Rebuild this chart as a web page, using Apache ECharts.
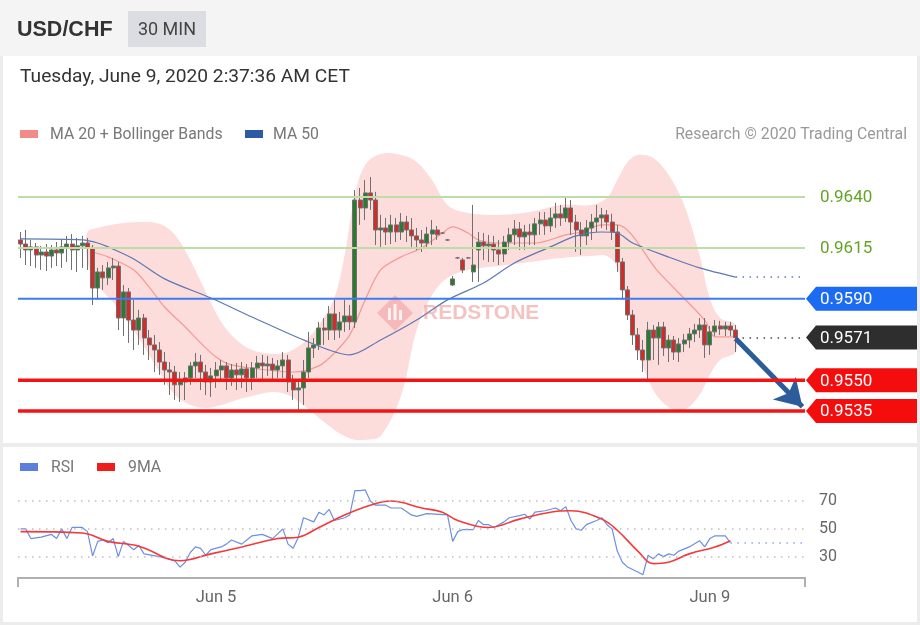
<!DOCTYPE html>
<html>
<head>
<meta charset="utf-8">
<script src="https://cdn.jsdelivr.net/npm/echarts@6/dist/echarts.min.js"></script>
<style>
html,body{margin:0;padding:0;background:#ececec;}
#wrap{position:relative;width:920px;height:625px;overflow:hidden;}
.bg{position:absolute;}
#c{position:absolute;left:0;top:0;width:920px;height:625px;}
</style>
</head>
<body>
<div id="wrap">
  <div class="bg" style="left:0;top:0;width:920px;height:56px;background:#f4f4f4"></div>
  <div class="bg" style="left:3px;top:56px;width:914px;height:387px;background:#fff"></div>
  <div class="bg" style="left:3px;top:447px;width:914px;height:175px;background:#fff"></div>
  <div id="c"></div>
</div>
<script>
// ---------- DATA ----------
const opens = [
 .96189,.96169,.96140,.96155,.96115,.96130,.96110,.96140,.96125,.96155,
 .96169,.96140,.96160,.96174,.96150,.95953,.96032,.96003,.96052,.96061,
 .95806,.95934,.95796,.95747,.95806,.95708,.95674,.95649,.95590,.95551,
 .95541,.95478,.95492,.95512,.95571,.95590,.95541,.95492,.95522,.95551,
 .95571,.95512,.95551,.95527,.95556,.95512,.95561,.95585,.95571,.95580,
 .95551,.95571,.95600,.95492,.95453,.95463,.95541,.95659,.95674,.95757,
 .95747,.95826,.95747,.95787,.95816,.95787,.96385,.96346,.96420,.96385,
 .96238,.96248,.96228,.96263,.96228,.96277,.96238,.96209,.96189,.96174,
 .96218,.96238,.96223,.96189,.95968,.96101,.96091,.96101,.96032,.96140,
 .96179,.96160,.96169,.96140,.96120,.96179,.96214,.96243,.96204,.96228,
 .96214,.96268,.96287,.96258,.96297,.96317,.96297,.96346,.96277,.96238,
 .96209,.96248,.96277,.96297,.96312,.96277,.96228,.96081,.95944,.95821,
 .95723,.95649,.95600,.95747,.95708,.95762,.95659,.95698,.95639,.95679,
 .95698,.95728,.95747,.95772,.95674,.95738,.95767,.95752,.95767,.95747
];
const closes = [
 .96169,.96140,.96155,.96115,.96130,.96110,.96140,.96125,.96155,.96169,
 .96140,.96160,.96174,.96150,.95953,.96032,.96003,.96052,.96061,.95806,
 .95934,.95796,.95747,.95806,.95708,.95674,.95649,.95590,.95551,.95541,
 .95478,.95492,.95512,.95571,.95590,.95541,.95492,.95522,.95551,.95571,
 .95512,.95551,.95527,.95556,.95512,.95561,.95585,.95571,.95580,.95551,
 .95571,.95600,.95492,.95453,.95463,.95541,.95659,.95674,.95757,.95747,
 .95826,.95747,.95787,.95816,.95787,.96385,.96346,.96420,.96385,.96238,
 .96248,.96228,.96263,.96228,.96277,.96238,.96209,.96189,.96174,.96218,
 .96238,.96214,.96223,.96189,.95998,.96101,.96042,.96101,.96066,.96179,
 .96160,.96169,.96140,.96120,.96179,.96214,.96243,.96204,.96228,.96214,
 .96268,.96287,.96258,.96297,.96317,.96297,.96346,.96277,.96238,.96209,
 .96248,.96277,.96297,.96312,.96277,.96228,.96081,.95944,.95821,.95723,
 .95649,.95600,.95747,.95708,.95762,.95659,.95698,.95639,.95679,.95698,
 .95728,.95747,.95772,.95674,.95738,.95767,.95752,.95767,.95747,.95710
];
const lows = [
 .96101,.96066,.96061,.96052,.96042,.96037,.96052,.96061,.96052,.96081,
 .96042,.96032,.96052,.96042,.95870,.95895,.95944,.95968,.95993,.95747,
 .95718,.95684,.95649,.95674,.95625,.95600,.95541,.95527,.95478,.95428,
 .95404,.95394,.95404,.95478,.95512,.95453,.95428,.95419,.95463,.95492,
 .95453,.95473,.95453,.95463,.95443,.95453,.95512,.95502,.95522,.95502,
 .95512,.95512,.95443,.95404,.95355,.95379,.95512,.95610,.95649,.95674,
 .95698,.95698,.95708,.95738,.95747,.95757,.96263,.96287,.96336,.96164,
 .96155,.96164,.96169,.96179,.96189,.96179,.96155,.96140,.96130,.96150,
 .96164,.96189,.96218,.96184,.95963,.96096,.96027,.96096,.95983,.95983,
 .96091,.96081,.96081,.96066,.96081,.96140,.96164,.96140,.96140,.96164,
 .96164,.96214,.96214,.96228,.96248,.96258,.96277,.96214,.96130,.96115,
 .96164,.96189,.96228,.96248,.96238,.96189,.96032,.95895,.95796,.95674,
 .95600,.95541,.95492,.95600,.95576,.95620,.95590,.95600,.95590,.95639,
 .95659,.95688,.95708,.95610,.95625,.95718,.95723,.95718,.95718,.95639
];
const highs = [
 .96228,.96238,.96189,.96174,.96160,.96169,.96164,.96179,.96189,.96209,
 .96218,.96199,.96209,.96199,.96164,.96052,.96066,.96081,.96101,.96081,
 .95968,.95953,.95895,.95846,.95826,.95747,.95723,.95688,.95639,.95590,
 .95571,.95541,.95541,.95590,.95634,.95625,.95576,.95561,.95590,.95600,
 .95590,.95580,.95585,.95590,.95580,.95590,.95620,.95625,.95620,.95610,
 .95600,.95639,.95625,.95527,.95502,.95600,.95738,.95708,.95787,.95806,
 .95865,.95895,.95836,.95895,.95870,.96434,.96444,.96483,.96498,.96425,
 .96312,.96297,.96312,.96297,.96321,.96307,.96297,.96248,.96238,.96253,
 .96287,.96258,.96228,.96194,.96012,.96106,.96101,.96106,.96361,.96228,
 .96223,.96214,.96209,.96189,.96209,.96248,.96287,.96277,.96263,.96268,
 .96297,.96326,.96326,.96346,.96371,.96361,.96400,.96385,.96312,.96277,
 .96287,.96317,.96361,.96346,.96336,.96317,.96263,.96101,.95963,.95846,
 .95757,.95698,.95787,.95772,.95787,.95787,.95723,.95718,.95708,.95728,
 .95757,.95777,.95806,.95806,.95767,.95796,.95792,.95787,.95787,.95772
];
// [candle index, value]
const ma50 = [[0,.96194],[12,.96189],[15,.96174],[17,.96155],[22,.96096],[28,.95998],[37,.95904],[45,.95811],[56,.95688],[64,.95625],[70,.95698],[77,.95796],[83,.95895],[90,.95978],[96,.96076],[103,.96155],[108,.96209],[113,.96228],[116,.96223],[119,.96174],[126,.96105],[132,.96052],[139,.96007]];
const ma20 = [[14,.96130],[17,.96106],[22,.96042],[25,.95958],[28,.95860],[32,.95762],[35,.95684],[38,.95615],[41,.95576],[48,.95551],[53,.95541],[58,.95571],[61,.95634],[64,.95723],[67,.95895],[70,.96042],[74,.96106],[78,.96150],[82,.96223],[84,.96253],[87,.96223],[89,.96189],[93,.96174],[100,.96174],[106,.96214],[109,.96228],[113,.96263],[116,.96263],[124,.96032],[133,.95796],[135,.95713],[139,.95713]];
const bandIdx = [13,15,19,23,27,30,33,36,39,42,45,49,52,55,58,61,63,65,67,70,74,77,80,83,87,93,99,105,111,114,116,118,120,123,126,129,132,134,136,139];
const bandUpper = [.96228,.96248,.96268,.96277,.96268,.96214,.96091,.95934,.95787,.95698,.95649,.95630,.95639,.95684,.95772,.95904,.96115,.96410,.96557,.96611,.96606,.96572,.96483,.96361,.96321,.96312,.96326,.96361,.96361,.96395,.96483,.96572,.96606,.96591,.96508,.96361,.96115,.95904,.95806,.95772];
const bandLower = [.96081,.95968,.95855,.95708,.95541,.95428,.95379,.95364,.95379,.95404,.95423,.95443,.95428,.95379,.95316,.95257,.95227,.95208,.95208,.95227,.95428,.95747,.95919,.96003,.96042,.96061,.96081,.96101,.96110,.96110,.96052,.95870,.95649,.95453,.95369,.95355,.95428,.95527,.95600,.95639];
const rsi = [[0,50],[1,50],[2,43],[4,44],[6,46],[7,43],[8,50],[9,43],[10,51],[12,51],[13,48],[14,30.5],[15,41],[16,42],[17,40],[18,43],[19,30],[20,41],[21,38],[22,35],[23,38],[24,32],[27,30],[28,29],[30,27],[31,22.5],[32,26],[33,33],[34,37],[35,36],[36,31],[37,35],[39,37],[40,39],[41,42],[43,39],[45,45],[47,46],[49,43],[51,50],[52,39],[53,36],[54,44],[55,58],[57,55],[58,62],[59,60],[60,64],[61,56],[63,58],[64,60],[65,77.5],[66,77.5],[67,78],[68,70],[69,67],[71,67],[72,65],[74,65],[76,60],[77,59],[79,61],[83,60],[84,41],[85,48],[86,49.5],[88,49.5],[89,56],[90,53],[91,53],[92,51],[94,55],[95,58],[97,59.5],[98,60.5],[99,57],[100,62],[102,63],[104,65],[105,63],[106,66],[107,56],[108,50],[109,49],[110,53],[112,56],[113,58],[114,53],[115,50],[116,34],[117,26],[118,22.5],[120,19],[121,17],[122,31],[123,28.5],[124,32],[125,30],[126,32],[127,31],[128,34],[130,37],[132,41.5],[133,37],[134,43],[135,45],[137,45],[138,40]];
const rsiMA9 = [[0,48],[12,47],[17,41],[23,37.5],[31,27],[37,32],[43,37],[50,43],[54,44],[58,51],[63,60],[68,67],[72,70],[78,65],[82,62],[85,56],[91,51],[97,57],[103,62],[107,63],[113,57],[116,49],[120,34],[123,25],[126,26],[130,32],[135,37],[138,41.5]];
const rsiLast = 40;
const rsiTicks = [70, 50, 30];
const resistances = [0.9640, 0.9615];
const pivot = 0.9590;
const lastPrice = 0.9571;
const supports = [0.9550, 0.9535];
const arrowFrom = [139, 0.95705];
const arrowTo = [152, 0.95370];
const tickLabels = {38: 'Jun 5', 84: 'Jun 6', 134: 'Jun 9'};
const SLOTS = 153;

// ---------- CHART ----------
const FONT = 'Roboto, "Liberation Sans", sans-serif';
const categories = [];
for (let i = 0; i < SLOTS; i++) categories.push(String(i));
const candles = opens.map((o, k) => [o, closes[k], lows[k], highs[k]]);
const lastIdx = opens.length - 1;
const ma50Last = ma50[ma50.length - 1][1];
const G = {left: 18, right: 115};

const chart = echarts.init(document.getElementById('c'), null, {renderer: 'canvas'});
const dotted = [1.5, 5.5];
const solid = (color, width) => ({color: color, width: width, type: 'solid'});

const option = {
  animation: false,
  backgroundColor: 'transparent',
  grid: [
    {left: G.left, right: G.right, top: 150.1, height: 291.4},
    {left: G.left, right: G.right, top: 480.2, height: 97.3}
  ],
  xAxis: [
    {type: 'category', gridIndex: 0, data: categories, boundaryGap: true,
     axisLine: {show: false}, axisTick: {show: false}, axisLabel: {show: false}, splitLine: {show: false}},
    {type: 'category', gridIndex: 1, data: categories, boundaryGap: true,
     axisLine: {show: true, lineStyle: {color: '#b0b0b0', width: 2}},
     axisTick: {show: false}, splitLine: {show: false},
     axisLabel: {show: true, interval: 0, margin: 12, color: '#666', fontSize: 16.5, fontFamily: FONT,
       formatter: v => tickLabels[v] || ''}}
  ],
  yAxis: [
    {type: 'value', gridIndex: 0, min: 0.9520, max: 0.9663, show: false, splitLine: {show: false}},
    {type: 'value', gridIndex: 1, min: 15, max: 85, show: false, splitLine: {show: false}}
  ],
  series: [
    {type: 'custom', name: 'Bollinger', xAxisIndex: 0, yAxisIndex: 0, z: 1, silent: true,
     data: bandIdx.map((x, k) => [x, bandUpper[k], bandLower[k]]),
     encode: {x: 0, y: [1, 2]},
     renderItem: (params, api) => {
       if (params.dataIndex !== 0) return null;
       const pts = [];
       for (let k = 0; k < bandIdx.length; k++) pts.push(api.coord([bandIdx[k], bandUpper[k]]));
       for (let k = bandIdx.length - 1; k >= 0; k--) pts.push(api.coord([bandIdx[k], bandLower[k]]));
       return {type: 'polygon', shape: {points: pts, smooth: 0.35}, style: {fill: '#fddcdc'}};
     }},
    {type: 'line', name: 'MA 20', xAxisIndex: 0, yAxisIndex: 0, z: 2, data: ma20, smooth: 0.3,
     symbol: 'none', lineStyle: {color: '#f39a94', width: 1.2}},
    {type: 'candlestick', name: 'USD/CHF', xAxisIndex: 0, yAxisIndex: 0, z: 3, data: candles, barWidth: 4.5,
     itemStyle: {color: '#2c7a30', color0: '#d22b28', borderColor: '#707070', borderColor0: '#707070', borderWidth: 1}},
    {type: 'line', name: 'MA 50', xAxisIndex: 0, yAxisIndex: 0, z: 4, data: ma50, smooth: 0.3,
     symbol: 'none', lineStyle: {color: '#5d78b2', width: 1.2},
     markLine: {silent: true, symbol: ['none', 'none'], label: {show: false}, animation: false,
       data: [
         [{coord: [lastIdx, lastPrice], lineStyle: {color: '#444', width: 1.5, type: dotted}},
          {coord: [SLOTS - 1, lastPrice], lineStyle: {color: '#444', width: 1.5, type: dotted}}],
         [{coord: [lastIdx, ma50Last], lineStyle: {color: '#5d78b2', width: 1.5, type: dotted}},
          {coord: [SLOTS - 1, ma50Last], lineStyle: {color: '#5d78b2', width: 1.5, type: dotted}}],
         [{coord: arrowFrom, symbol: 'none', lineStyle: solid('#2c5d9a', 5)},
          {coord: arrowTo, symbol: 'arrow', symbolSize: [24, 26], lineStyle: solid('#2c5d9a', 5)}]
       ]}},
    {type: 'line', name: 'RSI', xAxisIndex: 1, yAxisIndex: 1, z: 3, data: rsi, symbol: 'none',
     lineStyle: {color: '#6d8fe0', width: 1.2},
     markLine: {silent: true, symbol: ['none', 'none'], animation: false,
       label: {show: true, position: 'end', formatter: '{c}', color: '#666', fontSize: 16, fontFamily: FONT, distance: 14},
       lineStyle: {color: '#bdbdbd', width: 1.5, type: dotted},
       data: rsiTicks.map(v => ({yAxis: v})).concat([
         [{coord: [rsi[rsi.length - 1][0], rsiLast], label: {show: false}, lineStyle: {color: '#8ea6e6', width: 1.5, type: dotted}},
          {coord: [SLOTS - 1, rsiLast], label: {show: false}, lineStyle: {color: '#8ea6e6', width: 1.5, type: dotted}}]
       ])}},
    {type: 'line', name: '9MA', xAxisIndex: 1, yAxisIndex: 1, z: 4, data: rsiMA9, symbol: 'none', smooth: 0.4,
     lineStyle: {color: '#f23a3a', width: 1.6}}
  ]
};
chart.setOption(option);

// ---------- LEVEL LINES, TAGS & TEXT (positions from the axes) ----------
const py = v => chart.convertToPixel({yAxisIndex: 0}, v);
const W = 920;
const xr = W - G.right;
const LBL = '17px ' + FONT;
function level(value, color, width) {
  const y = py(value);
  return {type: 'line', z: 15, silent: true, shape: {x1: G.left, y1: y, x2: xr, y2: y},
    style: {stroke: color, lineWidth: width}};
}
function tag(value, fill) {
  const cy = py(value);
  return [
    {type: 'polygon', z: 20, shape: {points: [[xr + 1, cy], [xr + 11, cy - 12], [W - 3, cy - 12], [W - 3, cy + 12], [xr + 11, cy + 12]]},
     style: {fill: fill}},
    {type: 'text', z: 21, x: 820, y: cy + 1, style: {text: value.toFixed(4), fill: '#fff', font: LBL, textAlign: 'left', textVerticalAlign: 'middle'}}
  ];
}
function greenLabel(value) {
  return {type: 'text', z: 21, x: 820, y: py(value) + 1,
    style: {text: value.toFixed(4), fill: '#62a526', font: LBL, textAlign: 'left', textVerticalAlign: 'middle'}};
}
const txt = (x, y, text, font, fill, align) => ({type: 'text', z: 21, x: x, y: y,
  style: {text: text, font: font, fill: fill, textAlign: align || 'left', textVerticalAlign: 'middle'}});
const LEG = '15.8px ' + FONT;
const graphics = [
  level(resistances[0], '#bddca6', 2),
  level(resistances[1], '#bddca6', 2),
  level(pivot, '#3a7cf2', 2),
  level(supports[0], '#f21414', 3.5),
  level(supports[1], '#f21414', 3.5),
  txt(17, 30, 'USD/CHF', 'bold 21.5px "Liberation Sans", Arial, sans-serif', '#333'),
  {type: 'rect', z: 20, shape: {x: 128, y: 11, width: 78, height: 36}, style: {fill: '#dcdde2'}},
  txt(167, 30, '30 MIN', '18px ' + FONT, '#444', 'center'),
  txt(20, 77, 'Tuesday, June 9, 2020 2:37:36 AM CET', '19.2px ' + FONT, '#333'),
  {type: 'rect', z: 20, shape: {x: 20, y: 130, width: 18, height: 8}, style: {fill: '#f28a86'}},
  txt(50, 135, 'MA 20 + Bollinger Bands', LEG, '#777'),
  {type: 'rect', z: 20, shape: {x: 245, y: 130, width: 18, height: 8}, style: {fill: '#2d5ba3'}},
  txt(273, 135, 'MA 50', LEG, '#777'),
  txt(907, 135, 'Research \u00a9 2020 Trading Central', LEG, '#999', 'right'),
  {type: 'rect', z: 20, shape: {x: 20, y: 463, width: 18, height: 8}, style: {fill: '#5b7fdb'}},
  txt(51, 468, 'RSI', LEG, '#777'),
  {type: 'rect', z: 20, shape: {x: 97, y: 463, width: 18, height: 8}, style: {fill: '#f01d1d'}},
  txt(128, 468, '9MA', LEG, '#777'),
  // x-axis end ticks
  {type: 'line', z: 20, shape: {x1: G.left, y1: 577.5, x2: G.left, y2: 587}, style: {stroke: '#b0b0b0', lineWidth: 2}},
  {type: 'line', z: 20, shape: {x1: xr, y1: 577.5, x2: xr, y2: 587}, style: {stroke: '#b0b0b0', lineWidth: 2}},
  // watermark
  {type: 'polygon', z: 4, shape: {points: [[395, 295], [413, 313], [395, 331], [377, 313]]}, style: {fill: 'rgba(232,120,120,0.35)'}},
  {type: 'rect', z: 4, shape: {x: 388, y: 308, width: 3, height: 12}, style: {fill: 'rgba(255,255,255,0.8)'}},
  {type: 'rect', z: 4, shape: {x: 393.5, y: 304, width: 3, height: 16}, style: {fill: 'rgba(255,255,255,0.8)'}},
  {type: 'rect', z: 4, shape: {x: 399, y: 310, width: 3, height: 10}, style: {fill: 'rgba(255,255,255,0.8)'}},
  txt(423, 313, 'REDSTONE', 'bold 21px "Liberation Sans", Arial, sans-serif', 'rgba(232,120,120,0.45)'),
  greenLabel(resistances[0]),
  greenLabel(resistances[1])
].concat(tag(pivot, '#1b6cf2'), tag(lastPrice, '#2e2e2e'), tag(supports[0], '#f50c0c'), tag(supports[1], '#f50c0c'));
chart.setOption({graphic: graphics});
</script>
</body>
</html>
